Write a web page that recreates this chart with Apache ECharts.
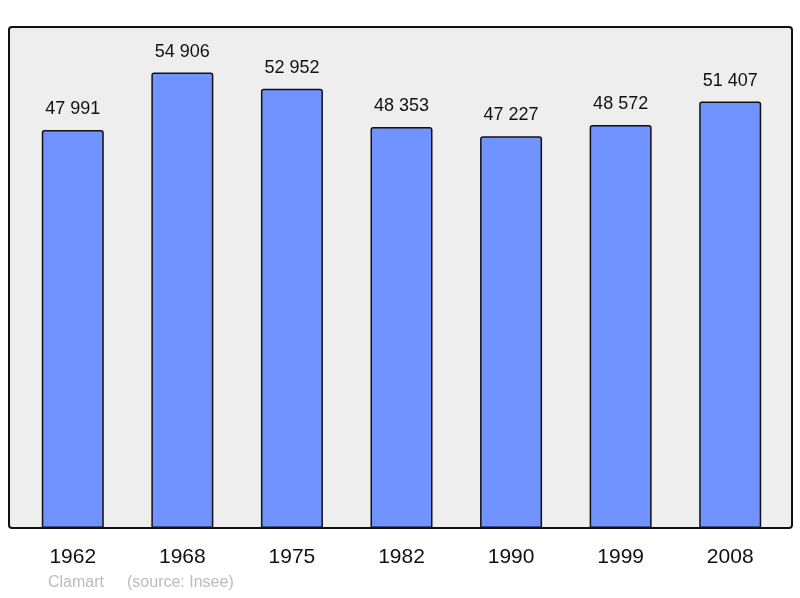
<!DOCTYPE html>
<html><head><meta charset="utf-8">
<script src="https://cdn.jsdelivr.net/npm/echarts@6/dist/echarts.min.js"></script>
<style>html,body{margin:0;padding:0;background:#fff}#c{width:800px;height:598px}</style>
</head><body><div id="c"></div>
<script>
const categories = ['1962','1968','1975','1982','1990','1999','2008'];
const population = [47991, 54906, 52952, 48353, 47227, 48572, 51407];
const chart = echarts.init(document.getElementById('c'));
const fmt = v => String(v).replace(/\B(?=(\d{3})+(?!\d))/g, ' ');
chart.setOption({
  animation: false,
  graphic: [
    {type:'rect', z:-10, shape:{x:9,y:27,width:783,height:501,r:3},
     style:{fill:'#eeeeee', stroke:'#111', lineWidth:2}},
    {type:'text', left:48, top:575, style:{text:'Clamart', fill:'#bbbbbb', font:'16px "Liberation Sans", Arial, sans-serif'}},
    {type:'text', left:127, top:575, style:{text:'(source: Insee)', fill:'#bbbbbb', font:'16px "Liberation Sans", Arial, sans-serif'}}
  ],
  grid: {left:18, top:27, width:767, height:501},
  xAxis: {type:'category', data:categories,
    axisLine:{show:false}, axisTick:{show:false},
    axisLabel:{color:'#111', fontSize:21, margin:19, fontFamily:'"Liberation Sans", Arial, sans-serif'}},
  yAxis: {type:'value', min:0, max:60400, show:false, splitLine:{show:false}},
  series: [{type:'bar', data:population, barWidth:62,
    itemStyle:{color:'#7093ff', borderColor:'#111', borderWidth:1.5, borderRadius:[2,2,0,0]},
    label:{show:true, position:'top', distance:12, color:'#111', fontSize:18,
      fontFamily:'"Liberation Sans", Arial, sans-serif', formatter:p=>fmt(p.value)}}]
});
</script></body></html>
